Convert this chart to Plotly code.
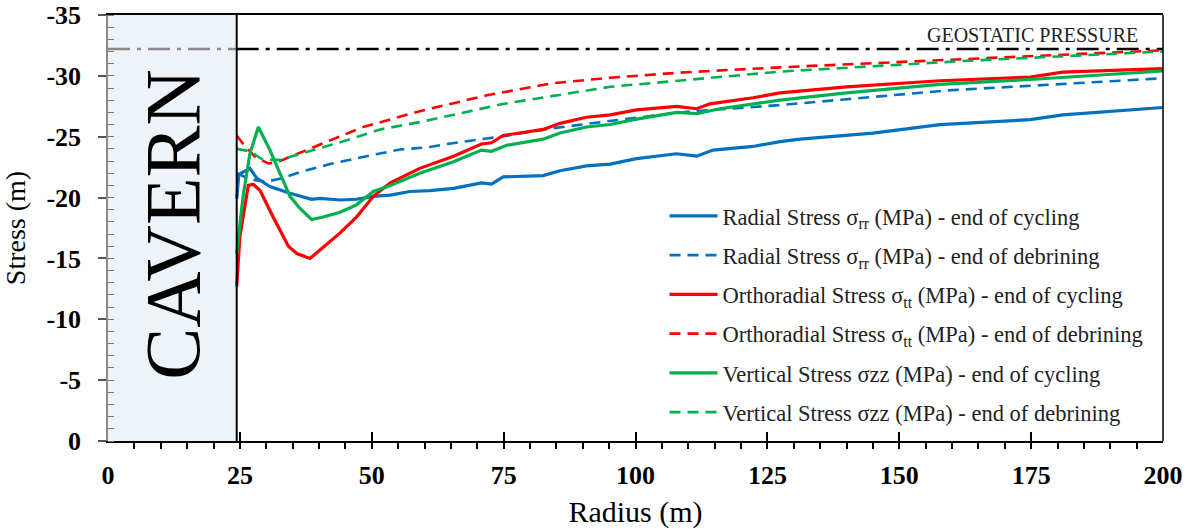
import plotly.graph_objects as go

# Radius (m) and stress values for each curve (stress plotted as negative values)
r_radial_cyc = [24.4, 24.8, 26.9, 28.2, 30.7, 34.5, 38.6, 40.2, 44.0, 47.1, 50.3, 53.5, 57.2, 61.0,
                65.5, 70.8, 72.7, 74.9, 82.5, 85.7, 90.7, 95.2, 100.2, 107.8, 111.6, 114.7, 122.3,
                127.4, 131.2, 145.0, 157.7, 174.8, 181.0, 200.0]
s_radial_cyc = [-19.9, -21.9, -22.4, -21.6, -20.9, -20.35, -19.86, -19.94, -19.8, -19.86, -20.1, -20.2,
                -20.5, -20.57, -20.75, -21.2, -21.1, -21.7, -21.8, -22.2, -22.6, -22.75, -23.2, -23.6,
                -23.4, -23.9, -24.2, -24.6, -24.8, -25.3, -26.0, -26.4, -26.8, -27.4]

r_radial_deb = [24.4, 27.0, 30.0, 33.0, 36.4, 42.1, 49.0, 55.4, 61.0, 65.0, 74.3, 84.4, 97.1, 109.7,
                127.4, 159.0, 200.0]
s_radial_deb = [-22.0, -21.5, -21.3, -21.6, -22.1, -22.75, -23.4, -23.95, -24.15, -24.45, -25.0, -25.7,
                -26.4, -27.05, -27.6, -28.8, -29.8]

r_ortho_cyc = [24.4, 25.0, 26.6, 27.5, 28.8, 31.3, 34.2, 35.8, 38.3, 40.2, 44.0, 47.1, 50.3, 53.5,
               57.3, 59.1, 65.5, 70.8, 72.7, 74.9, 82.5, 85.7, 90.7, 95.2, 100.2, 107.8, 111.6, 114.1,
               122.3, 127.4, 140.0, 157.7, 174.8, 181.0, 200.0]
s_ortho_cyc = [-12.7, -16.8, -21.0, -21.1, -20.6, -18.4, -16.0, -15.4, -15.0, -15.7, -17.1, -18.4,
               -20.1, -21.2, -22.0, -22.4, -23.4, -24.4, -24.5, -25.1, -25.6, -26.1, -26.6, -26.8,
               -27.2, -27.5, -27.3, -27.7, -28.2, -28.6, -29.1, -29.6, -29.9, -30.3, -30.6]

r_ortho_deb = [24.4, 26.0, 28.0, 30.4, 32.0, 35.8, 42.1, 48.4, 54.7, 59.1, 71.8, 84.4, 95.2, 109.7,
               127.4, 163.4, 200.0]
s_ortho_deb = [-25.1, -24.2, -23.3, -22.8, -22.9, -23.6, -24.7, -25.8, -26.6, -27.1, -28.4, -29.4,
               -29.85, -30.3, -30.7, -31.4, -32.1]

r_vert_cyc = [24.4, 25.6, 26.9, 28.5, 30.7, 32.6, 34.5, 36.4, 38.6, 40.8, 44.0, 47.1, 50.3, 53.5,
              57.3, 59.1, 65.5, 70.8, 72.7, 75.6, 82.5, 85.7, 90.7, 95.2, 100.2, 107.8, 111.6, 116.0,
              127.4, 140.0, 157.7, 174.8, 200.0]
s_vert_cyc = [-15.4, -20.1, -23.6, -25.8, -23.9, -22.0, -20.1, -19.1, -18.2, -18.4, -18.8, -19.4,
              -20.5, -21.0, -21.7, -22.0, -22.95, -23.9, -23.8, -24.3, -24.8, -25.3, -25.8, -26.0,
              -26.45, -27.0, -26.9, -27.3, -28.0, -28.6, -29.3, -29.7, -30.4]

r_vert_deb = [24.4, 26.9, 29.4, 32.6, 38.9, 45.2, 51.6, 59.1, 75.0, 95.2, 127.4, 163.4, 200.0]
s_vert_deb = [-24.0, -23.8, -23.1, -23.1, -23.9, -24.7, -25.6, -26.2, -27.7, -29.1, -30.35, -31.25, -32.0]

CAVERN_RADIUS = 24.4
GEOSTATIC = -32.2
R_MAX = 200

x_ticks = [0, 25, 50, 75, 100, 125, 150, 175, 200]
y_ticks = [-35, -30, -25, -20, -15, -10, -5, 0]
y_tick_text = ["-35", "-30", "-25", "-20", "-15", "-10", "-5", "0"]

BLUE = "#0070C0"
RED = "#FF0000"
GREEN = "#00B050"
SERIF = "Liberation Serif"

series = [
    ("Radial Stress σ<sub>rr</sub> (MPa) - end of cycling", r_radial_cyc, s_radial_cyc, BLUE, "solid"),
    ("Radial Stress σ<sub>rr</sub> (MPa) - end of debrining", r_radial_deb, s_radial_deb, BLUE, "dash"),
    ("Orthoradial Stress σ<sub>tt</sub> (MPa) - end of cycling", r_ortho_cyc, s_ortho_cyc, RED, "solid"),
    ("Orthoradial Stress σ<sub>tt</sub> (MPa) - end of debrining", r_ortho_deb, s_ortho_deb, RED, "dash"),
    ("Vertical Stress σzz (MPa) - end of cycling", r_vert_cyc, s_vert_cyc, GREEN, "solid"),
    ("Vertical Stress σzz (MPa) - end of debrining", r_vert_deb, s_vert_deb, GREEN, "dash"),
]

fig = go.Figure()

# Geostatic pressure reference line: grey inside the cavern, black in the rock mass
fig.add_trace(go.Scatter(x=[0, CAVERN_RADIUS], y=[GEOSTATIC, GEOSTATIC], mode="lines",
                         line=dict(color="#8a8a8a", width=2.5, dash="22px,7px,4px,7px"),
                         showlegend=False, hoverinfo="skip"))
fig.add_trace(go.Scatter(x=[CAVERN_RADIUS, R_MAX], y=[GEOSTATIC, GEOSTATIC], mode="lines",
                         line=dict(color="black", width=2.5, dash="22px,7px,4px,7px"),
                         showlegend=False, hoverinfo="skip"))

for i, (name, r, s, color, style) in enumerate(series):
    dashed = style == "dash"
    fig.add_trace(go.Scatter(
        x=r, y=s, mode="lines", name=name, legendgroup=f"g{i}",
        line=dict(color=color, width=2.6 if dashed else 3.2,
                  dash="11px,7px" if dashed else "solid"),
    ))

# Cavern region
fig.add_shape(type="rect", x0=0, x1=CAVERN_RADIUS, y0=0, y1=-35, xref="x", yref="y",
              fillcolor="#EEF3FA", line=dict(width=0), layer="below")
fig.add_shape(type="line", x0=CAVERN_RADIUS, x1=CAVERN_RADIUS, y0=0, y1=-35, xref="x", yref="y",
              line=dict(color="black", width=2))
# Right-hand frame edge
fig.add_shape(type="line", x0=1, x1=1, y0=0, y1=1, xref="paper", yref="paper",
              line=dict(color="black", width=1.5))

fig.add_annotation(x=CAVERN_RADIUS / 2, y=-17.8, text="CAVERN", textangle=-90, showarrow=False,
                   font=dict(family=SERIF, size=78, color="black"))
fig.add_annotation(x=0.978, xref="paper", y=GEOSTATIC, yref="y", text="GEOSTATIC PRESSURE",
                   showarrow=False, xanchor="right", yanchor="bottom", yshift=1,
                   font=dict(family=SERIF, size=20, color="#222"))

fig.update_layout(
    width=1194, height=529,
    margin=dict(l=108, r=31, t=15, b=88),
    plot_bgcolor="white", paper_bgcolor="white",
    font=dict(family=SERIF, color="black"),
    showlegend=True,
    legend=dict(x=0.5275, y=0.578, xanchor="left", yanchor="top",
                font=dict(family=SERIF, size=22.5, color="#222"),
                bgcolor="rgba(0,0,0,0)", tracegroupgap=7, itemwidth=48),
    xaxis=dict(
        range=[0, R_MAX], tickvals=x_ticks, ticks="inside", ticklen=9, tickwidth=1.5,
        tickcolor="black", showline=True, linecolor="black", linewidth=1.5, mirror=True,
        showgrid=False, zeroline=False, ticklabelstandoff=10, automargin=False,
        tickfont=dict(family=SERIF, size=26, color="black", weight="bold"),
        minor=dict(dtick=5, ticks="outside", ticklen=6, tickcolor="black", tickwidth=1.5, showgrid=False),
        title=dict(text="Radius (m)", font=dict(family=SERIF, size=30, color="black")),
    ),
    yaxis=dict(
        range=[0, -35], tickvals=y_ticks, ticktext=y_tick_text, ticks="outside", ticklen=8,
        tickwidth=1.5, tickcolor="#555", showline=True, linecolor="#8a8a8a", linewidth=1.5,
        showgrid=False, zeroline=False, ticklabelstandoff=12, automargin=False,
        tickfont=dict(family=SERIF, size=26, color="black", weight="bold"),
        minor=dict(dtick=1, ticks="inside", ticklen=6, tickcolor="#777", tickwidth=1, showgrid=False),
        title=dict(text="Stress (m)", font=dict(family=SERIF, size=28, color="black")),
    ),
)

fig.write_html("out.html")
